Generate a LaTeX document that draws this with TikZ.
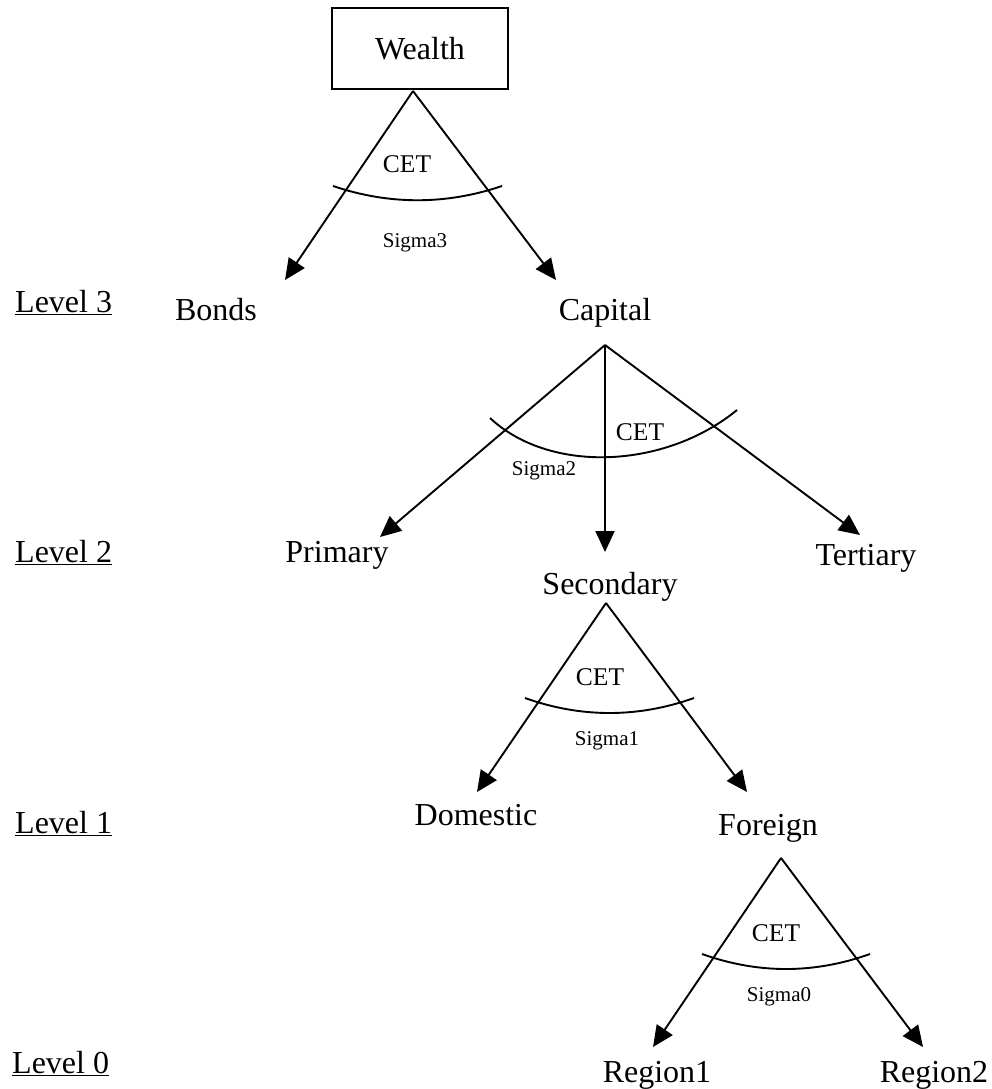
\documentclass[tikz,border=0pt]{standalone}
\usepackage{fontspec}
\setmainfont{Liberation Serif}
\usetikzlibrary{arrows.meta}
\begin{document}
\begin{tikzpicture}[x=1pt,y=-1pt,
  lbl/.style={inner sep=0pt,anchor=base,font=\fontsize{32}{38}\selectfont},
  lvl/.style={inner sep=0pt,anchor=base west,font=\fontsize{32}{38}\selectfont},
  cet/.style={inner sep=0pt,anchor=base,font=\fontsize{25.5}{30}\selectfont},
  sig/.style={inner sep=0pt,anchor=base,font=\fontsize{21}{25}\selectfont},
  arr/.style={line width=1.9pt,-{Triangle[length=21pt,width=19pt]}},
  arcline/.style={line width=1.9pt}]
\useasboundingbox (0,0) rectangle (992,1089);
% top box
\node[draw,line width=1.6pt,minimum width=176pt,minimum height=81pt,inner sep=0pt,
      font=\fontsize{32}{38}\selectfont] (wealth) at (420,48.5) {Wealth};
% level labels
\node[lvl] (l3) at (15,312) {\underline{Level 3}};
\node[lvl] (l2) at (15,562) {\underline{Level 2}};
\node[lvl] (l1) at (15,833) {\underline{Level 1}};
\node[lvl] (l0) at (12,1073) {\underline{Level 0}};
% nodes
\node[lbl] (bonds) at (216,320) {Bonds};
\node[lbl] (capital) at (605,320) {Capital};
\node[lbl] (primary) at (337,562) {Primary};
\node[lbl] (secondary) at (610,594) {Secondary};
\node[lbl] (tertiary) at (866,565) {Tertiary};
\node[lbl] (domestic) at (476,825) {Domestic};
\node[lbl] (foreign) at (768,835) {Foreign};
\node[lbl] (region1) at (657,1082) {Region1};
\node[lbl] (region2) at (934,1082) {Region2};
% CET / sigma labels
\node[cet] (cet3) at (407,172) {CET};
\node[sig] (s3) at (415,247) {Sigma3};
\node[cet] (cet2) at (640,440) {CET};
\node[sig] (s2) at (544,475) {Sigma2};
\node[cet] (cet1) at (600,685) {CET};
\node[sig] (s1) at (607,745) {Sigma1};
\node[cet] (cet0) at (776,941) {CET};
\node[sig] (s0) at (779,1001) {Sigma0};
% apexes and tips
\coordinate (a3) at (413,91);
\coordinate (a2) at (605,345);
\coordinate (a1) at (606,603);
\coordinate (a0) at (781,858);
\coordinate (tb) at (285,280);
\coordinate (tc) at (556,280);
\coordinate (tp) at (380,537);
\coordinate (ts) at (605,552);
\coordinate (tt) at (860,535);
\coordinate (td) at (477,792);
\coordinate (tf) at (747,792);
\coordinate (tr1) at (653,1047);
\coordinate (tr2) at (923,1047);
% arrows
\draw[arr] (a3) -- (tb);
\draw[arr] (a3) -- (tc);
\draw[arr] (a2) -- (tp);
\draw[arr] (a2) -- (ts);
\draw[arr] (a2) -- (tt);
\draw[arr] (a1) -- (td);
\draw[arr] (a1) -- (tf);
\draw[arr] (a0) -- (tr1);
\draw[arr] (a0) -- (tr2);
% arcs
\draw[arcline] (333,186) .. controls (389,205) and (446,205) .. (502,186);
\draw[arcline] (490,418) .. controls (550,474) and (665,469) .. (737,410);
\draw[arcline] (525,698) .. controls (581,718) and (638,718) .. (694,698);
\draw[arcline] (702,954) .. controls (758,974) and (814,974) .. (870,954);
\end{tikzpicture}
\end{document}
